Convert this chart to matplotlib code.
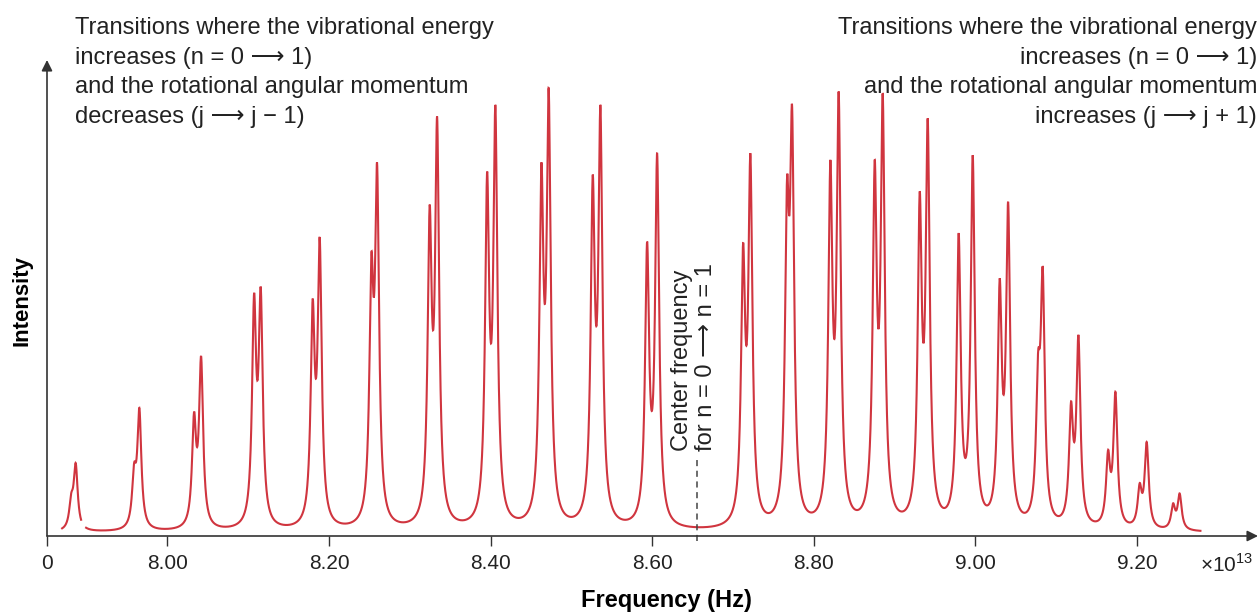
import numpy as np
import matplotlib.pyplot as plt

plt.rcParams['font.family'] = ['Liberation Sans', 'DejaVu Sans']
plt.rcParams['mathtext.fontset'] = 'custom'
plt.rcParams['mathtext.rm'] = 'Liberation Sans'

# Line positions in units of 1e13 Hz, heights in % of the tallest line.
# Each transition is a doublet: a strong line and a weaker line just below it.
p_main_freq = [7.8865, 7.9653, 8.0417, 8.1155, 8.1885, 8.2595, 8.3338, 8.4059, 8.4719, 8.5359, 8.6061]
p_main_height = [16.3, 28.6, 40.2, 55.6, 66.7, 83.3, 93.6, 96.2, 100.0, 96.2, 85.4]
p_side_freq = [7.8810, 7.9588, 8.0330, 8.1073, 8.1798, 8.2525, 8.3246, 8.3957, 8.4629, 8.5264, 8.5937]
p_side_height = [9.6, 16.3, 27.7, 54.2, 52.9, 63.2, 73.9, 81.3, 83.3, 80.6, 65.7]

r_main_freq = [8.7215, 8.7731, 8.8308, 8.8853, 8.9410, 8.9967, 9.0405, 9.0833, 9.1275, 9.1733, 9.2120, 9.2528]
r_main_height = [85.4, 96.2, 99.2, 98.8, 93.2, 85.0, 74.6, 60.1, 44.9, 32.2, 21.0, 9.5]
r_side_freq = [8.7125, 8.7669, 8.8205, 8.8754, 8.9311, 8.9793, 9.0301, 9.0776, 9.1184, 9.1642, 9.2033, 9.2447]
r_side_height = [65.4, 80.2, 83.9, 83.9, 76.9, 67.6, 57.5, 41.1, 30.0, 19.2, 11.8, 7.3]

center_freq = 8.6556
gamma = 0.0030   # lorentzian half width
baseline = 0.8

# the trace is drawn in two pieces, the first doublet is cut off from the rest
pieces = [(7.8697, 7.8932), (7.8994, 9.2785)]

tick_vals = [7.851, 8.00, 8.20, 8.40, 8.60, 8.80, 9.00, 9.20]
tick_labels = ['0', '8.00', '8.20', '8.40', '8.60', '8.80', '9.00', '9.20']


def lorentz(f, f0):
    return gamma ** 2 / ((f - f0) ** 2 + gamma ** 2)


freqs = np.array(p_side_freq + p_main_freq + r_side_freq + r_main_freq)
heights = np.array(p_side_height + p_main_height + r_side_height + r_main_height)

# amplitudes chosen so that the summed trace reaches the read heights at each line
M = lorentz(freqs[:, None], freqs[None, :])
amps = np.linalg.solve(M, heights - baseline)


def spectrum(f):
    return baseline + (amps[None, :] * lorentz(f[:, None], freqs[None, :])).sum(axis=1)


fig = plt.figure(figsize=(12.6, 6.14), dpi=100)
ax = fig.add_axes([47 / 1260, 78 / 614, 1211 / 1260, 476 / 614])
ax.set_xlim(7.851, 7.851 + 1211 / 808)
ax.set_ylim(0, 476 / 4.48)

red = '#d0353f'
for lo, hi in pieces:
    f = np.linspace(lo, hi, 12000)
    ax.plot(f, spectrum(f), color=red, lw=1.5, solid_joinstyle='miter')

ax.plot([center_freq, center_freq], [-1.2, 17.4], color='#444444', lw=1.1,
        dashes=(4, 3), clip_on=False)
ax.text(center_freq - 0.004, 19.0, 'Center frequency\nfor n = 0 ⟶ n = 1', rotation=90,
        ha='center', va='bottom', multialignment='left', fontsize=17, linespacing=1.15,
        color='#222222')

for s in ax.spines.values():
    s.set_visible(False)
axis_col = '#333333'
ax.annotate('', xy=(1, 0), xytext=(0, 0), xycoords='axes fraction',
            arrowprops=dict(arrowstyle='-|>', color=axis_col, lw=1.2, mutation_scale=16,
                            shrinkA=0, shrinkB=0))
ax.annotate('', xy=(0, 1), xytext=(0, 0), xycoords='axes fraction',
            arrowprops=dict(arrowstyle='-|>', color=axis_col, lw=1.2, mutation_scale=16,
                            shrinkA=0, shrinkB=0))

ax.set_xticks(tick_vals)
ax.set_xticklabels(tick_labels)
ax.set_yticks([])
ax.tick_params(axis='x', direction='out', length=7, width=1, color=axis_col,
               labelsize=15, pad=6, labelcolor='#222222')

fig.text(1200 / 1260, 1 - 564 / 614, '×10$^{13}$', fontsize=15, va='center', ha='left',
         color='#222222')
fig.text(22 / 1260, 1 - 300 / 614, 'Intensity', rotation=90, fontsize=16, fontweight='bold',
         ha='center', va='center')
fig.text(666 / 1260, 1 - 601 / 614, 'Frequency (Hz)', fontsize=17, fontweight='bold',
         ha='center', va='center')

left_note = ('Transitions where the vibrational energy\nincreases (n = 0 ⟶ 1)\n'
             'and the rotational angular momentum\ndecreases (j ⟶ j − 1)')
right_note = ('Transitions where the vibrational energy\nincreases (n = 0 ⟶ 1)\n'
              'and the rotational angular momentum\nincreases (j ⟶ j + 1)')
fig.text(75 / 1260, 1 - 17 / 614, left_note, ha='left', va='top', fontsize=17,
         linespacing=1.45, color='#222222')
fig.text(1257 / 1260, 1 - 17 / 614, right_note, ha='right', va='top', fontsize=17,
         linespacing=1.45, multialignment='right', color='#222222')

fig.savefig('out.png', dpi=100)
